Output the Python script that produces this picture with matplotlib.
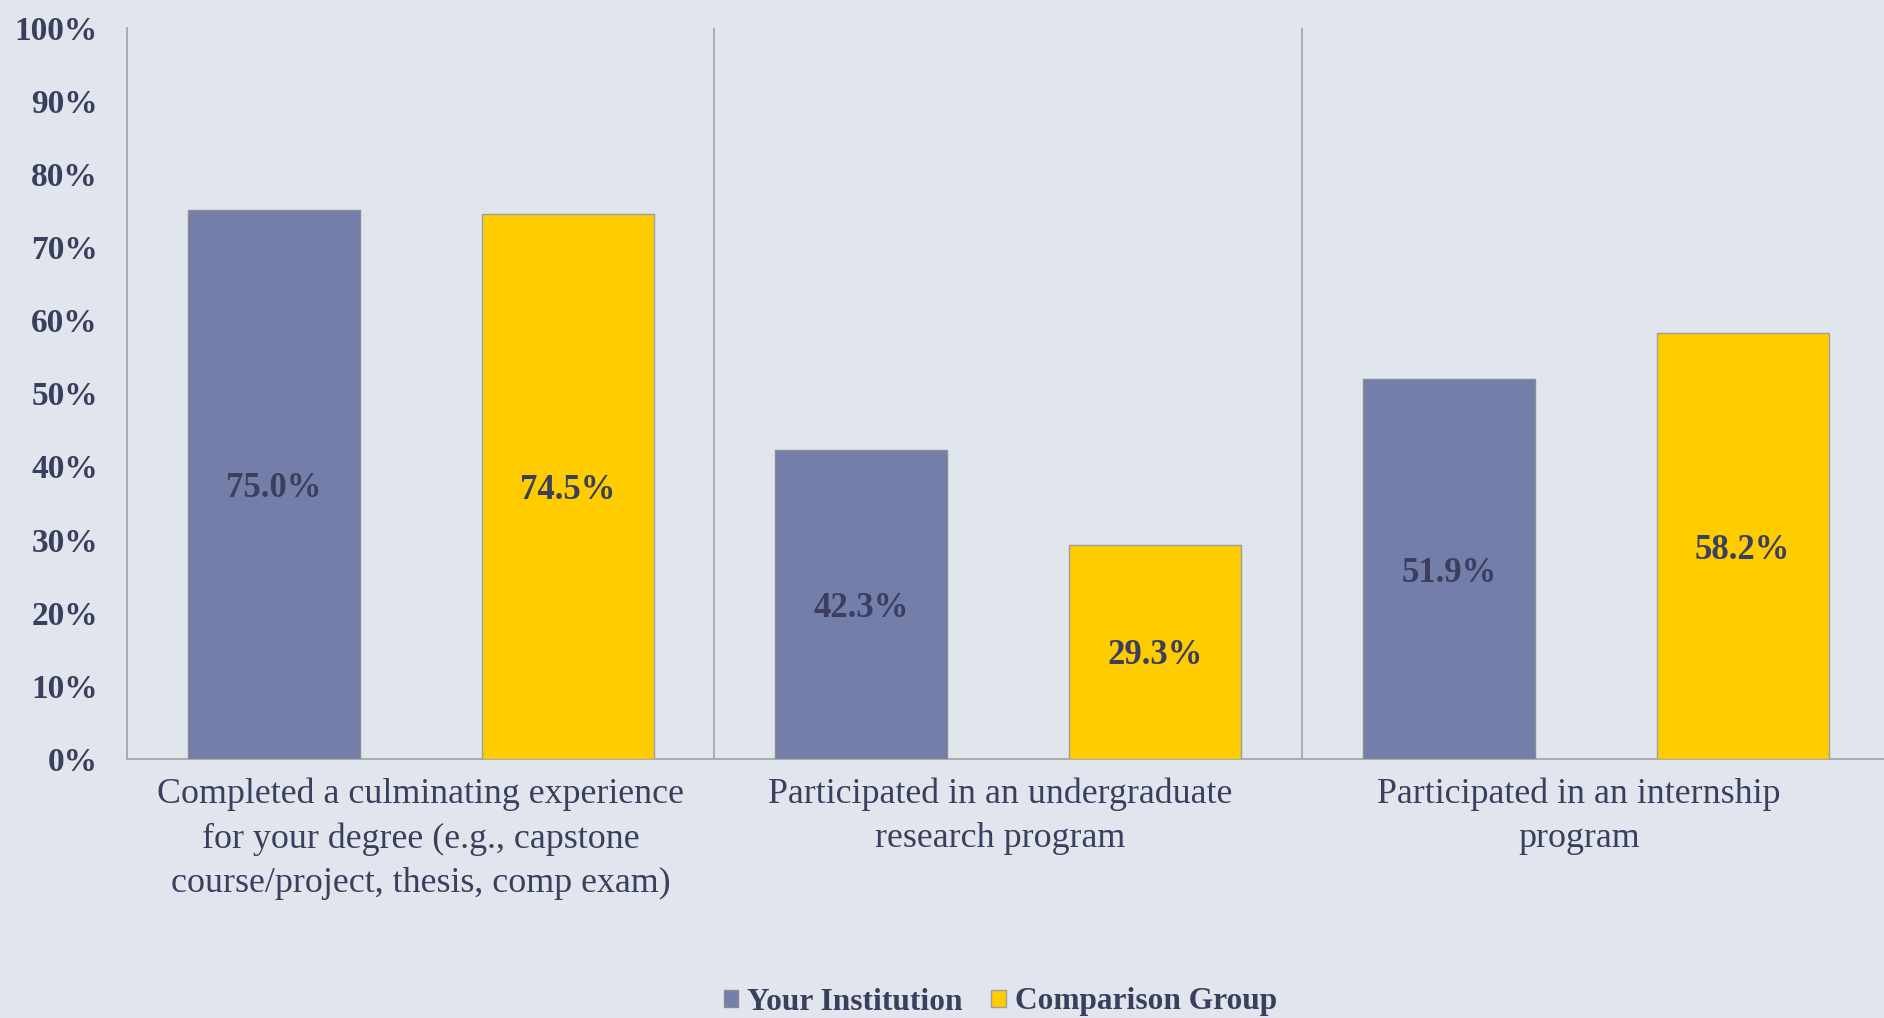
import matplotlib
matplotlib.use("Agg")
import matplotlib.pyplot as plt
import matplotlib.transforms as mtransforms
from matplotlib.ticker import FuncFormatter

categories = [
    "Completed a culminating experience\nfor your degree (e.g., capstone\ncourse/project, thesis, comp exam)",
    "Participated in an undergraduate\nresearch program",
    "Participated in an internship\nprogram",
]
series_names = ["Your Institution", "Comparison Group"]
your_institution = [75.0, 42.3, 51.9]
comparison_group = [74.5, 29.3, 58.2]
yticks = list(range(0, 101, 10))

BG = "#E1E5ED"
BLUE = "#737FAA"
YELLOW = "#FFCC00"
TEXT = "#3B3F5E"
GRID = "#A6A6A6"

plt.rcParams["font.family"] = ["Liberation Serif", "DejaVu Serif"]

fig = plt.figure(figsize=(18.84, 10.18), dpi=100, facecolor=BG)
ax = fig.add_axes([127 / 1884, 1 - 759 / 1018, 1762.5 / 1884, (759 - 27.6) / 1018])
ax.set_facecolor(BG)

x = list(range(len(categories)))
w = 0.293
off = 0.25
b1 = ax.bar([i - off for i in x], your_institution, width=w, color=BLUE,
            edgecolor="#8C8C8C", linewidth=1.0, label=series_names[0], zorder=3)
b2 = ax.bar([i + off for i in x], comparison_group, width=w, color=YELLOW,
            edgecolor="#9E9E9E", linewidth=1.0, label=series_names[1], zorder=3)

for bars, vals in ((b1, your_institution), (b2, comparison_group)):
    for rect, v in zip(bars, vals):
        ax.text(rect.get_x() + rect.get_width() / 2, v / 2, f"{v:.1f}%",
                ha="center", va="center_baseline", fontsize=25, fontweight="bold",
                color=TEXT, zorder=4)

ax.set_xlim(-0.5, 2.5)
ax.set_ylim(0, 100)
ax.set_yticks(yticks)
ax.yaxis.set_major_formatter(FuncFormatter(lambda v, p: f"{v:.0f}%"))
ax.tick_params(axis="y", length=0, pad=21, labelsize=24, labelcolor=TEXT)
for lab in ax.get_yticklabels():
    lab.set_fontweight("bold")

ax.set_xticks(x)
ax.set_xticklabels(categories, fontsize=25.8, color=TEXT, linespacing=1.45)
ax.tick_params(axis="x", length=0, pad=13)
for i, lab in enumerate(ax.get_xticklabels()):
    shift = mtransforms.ScaledTranslation(-8.4 * i / 100, 0, fig.dpi_scale_trans)
    lab.set_transform(lab.get_transform() + shift)

for sep in (0.5, 1.5):
    ax.axvline(sep, color=GRID, linewidth=1.3, zorder=2)

for s in ("top", "right"):
    ax.spines[s].set_visible(False)
for s in ("left", "bottom"):
    ax.spines[s].set_color(GRID)
    ax.spines[s].set_linewidth(1.3)

leg = fig.legend(handles=[b1, b2], labels=series_names, loc="center",
                 bbox_to_anchor=(0.531, 1 - 1002 / 1018), ncol=2, frameon=False,
                 prop={"family": ["Liberation Serif"], "weight": "bold", "size": 22.6},
                 handlelength=0.46, handleheight=0.46, handletextpad=0.3,
                 columnspacing=0.9)
for t in leg.get_texts():
    t.set_color(TEXT)

fig.savefig("out.png", dpi=100, facecolor=BG)
